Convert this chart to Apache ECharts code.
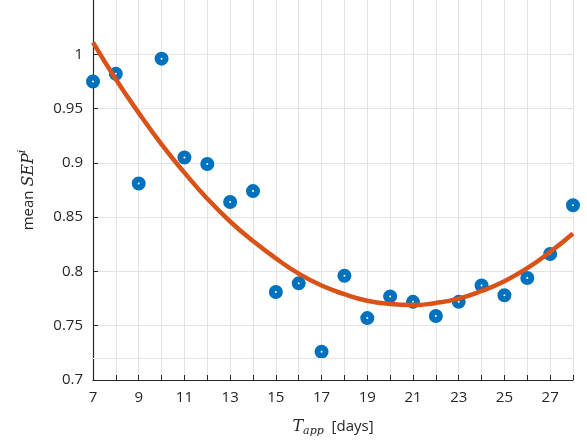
<!DOCTYPE html>
<html><head><meta charset="utf-8">
<script src="https://cdn.jsdelivr.net/npm/echarts@6/dist/echarts.min.js"></script>
<style>html,body{margin:0;padding:0;background:#fff}#c{width:587px;height:443px}</style>
</head><body><div id="c"></div>
<script>
const days = [7,8,9,10,11,12,13,14,15,16,17,18,19,20,21,22,23,24,25,26,27,28];
const meanSEP = [0.975,0.982,0.881,0.996,0.905,0.899,0.864,0.874,0.781,0.789,0.726,0.796,0.757,0.777,0.772,0.759,0.772,0.787,0.778,0.794,0.816,0.861];
const fitX = [7,8,9,10,11,12,13,14,15,16,17,18,19,20,21,22,23,24,25,26,27,28];
const fitY = [1.011,0.977,0.946,0.917,0.891,0.867,0.846,0.828,0.812,0.798,0.787,0.779,0.773,0.770,0.769,0.771,0.775,0.782,0.791,0.803,0.818,0.835];
const yTickLabels = {'0.7':'0.7','0.75':'0.75','0.8':'0.8','0.85':'0.85','0.9':'0.9','0.95':'0.95','1':'1'};
const extraGridY = 0.725;

const txt = '#262626';
const font = '"Open Sans", "Noto Sans", sans-serif';
const chart = echarts.init(document.getElementById('c'), null, {renderer:'canvas'});
chart.setOption({
  animation:false,
  backgroundColor:'#fff',
  grid:{left:93,right:14,top:0,bottom:63,containLabel:false},
  xAxis:{
    type:'value',min:7,max:28,interval:1,
    name:'{m|T}{s|app}{n|  [days]}',nameLocation:'middle',nameGap:37,
    nameTextStyle:{color:txt,rich:{
      m:{fontFamily:'"DejaVu Serif", serif',fontStyle:'italic',fontSize:16,color:txt},
      s:{fontFamily:'"DejaVu Serif", serif',fontStyle:'italic',fontSize:11,color:txt,padding:[9,0,0,0]},
      n:{fontFamily:font,fontSize:15,color:txt}
    }},
    axisLine:{lineStyle:{color:txt,width:1.2}},
    axisTick:{inside:true,length:5,lineStyle:{color:txt,width:1}},
    axisLabel:{color:txt,fontFamily:font,fontSize:15,margin:10,
      formatter:v=> (Math.round(v)%2===1 ? String(v) : '')},
    splitLine:{show:true,showMinLine:false,showMaxLine:true,lineStyle:{color:'#e3e3e3',width:1}}
  },
  yAxis:{
    type:'value',min:0.7,max:1.05,interval:0.05,
    name:'{n|mean }{m|SEP}{s|i}',nameLocation:'middle',nameGap:53,
    nameTextStyle:{color:txt,rich:{
      m:{fontFamily:'"DejaVu Serif", serif',fontStyle:'italic',fontSize:16,color:txt},
      s:{fontFamily:'"DejaVu Serif", serif',fontStyle:'italic',fontSize:11,color:txt,padding:[0,0,12,0]},
      n:{fontFamily:font,fontSize:15,color:txt}
    }},
    axisLine:{show:true,lineStyle:{color:txt,width:1.2}},
    axisTick:{show:true,inside:true,length:5,lineStyle:{color:txt,width:1}},
    axisLabel:{color:txt,fontFamily:font,fontSize:15,margin:10,showMaxLabel:false,
      formatter:v=>{const k=String(Math.round(v*100)/100);return yTickLabels[k]||'';}},
    splitLine:{show:true,showMinLine:false,showMaxLine:false,lineStyle:{color:'#e3e3e3',width:1}}
  },
  series:[
    {type:'scatter',data:days.map((d,i)=>[d,meanSEP[i]]),symbol:'circle',symbolSize:8,
     itemStyle:{color:'#ffffff',borderColor:'#0072BD',borderWidth:6,opacity:1},z:2,
     markLine:{silent:true,symbol:'none',label:{show:false},animation:false,
       lineStyle:{color:'#e3e3e3',width:1,type:'solid'},data:[{yAxis:extraGridY}]}},
    {type:'line',data:fitX.map((d,i)=>[d,fitY[i]]),smooth:true,showSymbol:false,
     lineStyle:{color:'#D95319',width:4.5},z:3}
  ]
});
</script></body></html>
